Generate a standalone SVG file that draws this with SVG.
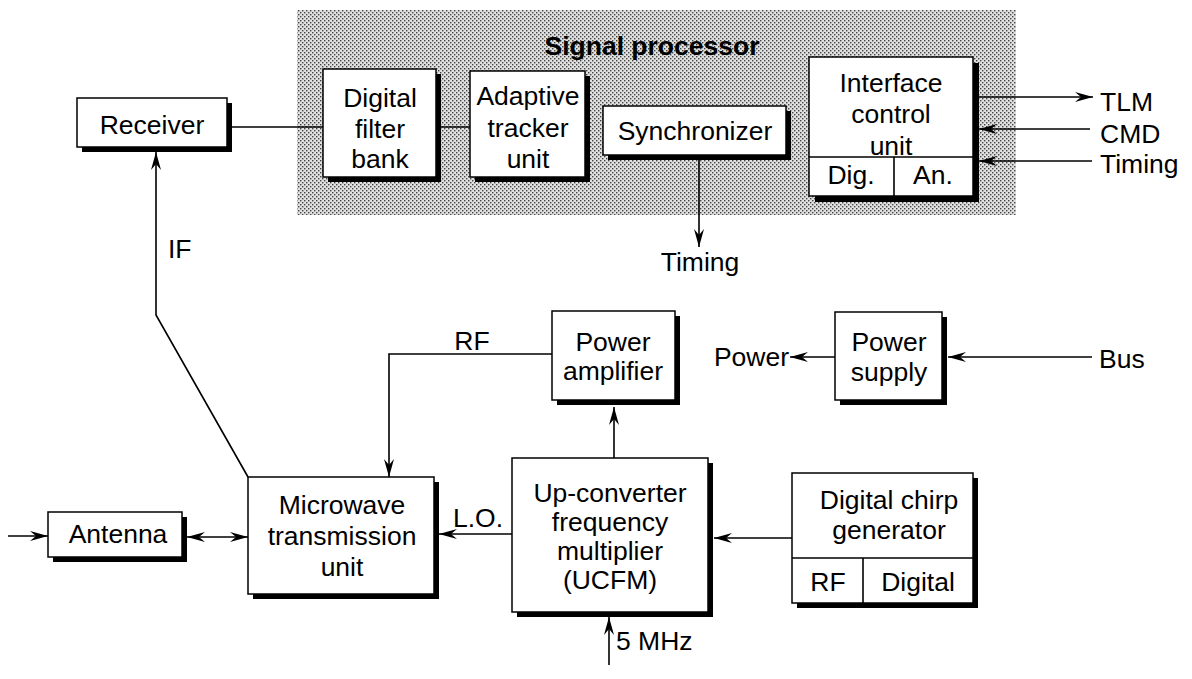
<svg xmlns="http://www.w3.org/2000/svg" width="1192" height="679" viewBox="0 0 1192 679">
<style>
text{font-family:"Liberation Sans",Arial,Helvetica,sans-serif;font-size:26.5px;fill:#000}
.c{text-anchor:middle}
.e{text-anchor:end}
.b{font-weight:bold}
.box{fill:#fff;stroke:#000;stroke-width:1.5}
.sh{fill:#000}
.w{fill:none;stroke:#000;stroke-width:1.6}
</style>
<defs>
<pattern id="dots" width="4" height="4" patternUnits="userSpaceOnUse">
<rect width="4" height="4" fill="#e0e0e0"/>
<rect x="0" y="0" width="1.4" height="1.4" fill="#444"/>
<rect x="2" y="2" width="1.4" height="1.4" fill="#444"/>
</pattern>
<marker id="ar" viewBox="0 0 18 10" refX="18" refY="5" markerWidth="18" markerHeight="10" markerUnits="userSpaceOnUse" orient="auto-start-reverse">
<path d="M0,0 L18,5 L0,10 L6,5 z" fill="#000"/>
</marker>
</defs>
<rect width="1192" height="679" fill="#fff"/>

<g id="signal-processor">
<rect x="297" y="10" width="719" height="205" fill="url(#dots)"/>
<text class="c b" x="652" y="55">Signal processor</text>
</g>

<g id="connectors">
<line class="w" x1="227" y1="127" x2="323" y2="127"/>
<line class="w" x1="436" y1="127" x2="470" y2="127"/>
<line class="w" x1="699" y1="155" x2="699" y2="247" marker-end="url(#ar)"/>
<line class="w" x1="973" y1="97" x2="1093" y2="97" marker-end="url(#ar)"/>
<line class="w" x1="1090" y1="129" x2="979" y2="129" marker-end="url(#ar)"/>
<line class="w" x1="1092" y1="161" x2="979" y2="161" marker-end="url(#ar)"/>
<polyline class="w" points="248,477 156,315 156,152" marker-end="url(#ar)"/>
<polyline class="w" points="552,354 389,354 389,477" marker-end="url(#ar)"/>
<line class="w" x1="614" y1="458" x2="614" y2="407" marker-end="url(#ar)"/>
<line class="w" x1="835" y1="357" x2="790" y2="357" marker-end="url(#ar)"/>
<line class="w" x1="1092" y1="357" x2="948" y2="357" marker-end="url(#ar)"/>
<line class="w" x1="8" y1="536" x2="48" y2="536" marker-end="url(#ar)"/>
<line class="w" x1="187" y1="537" x2="248" y2="537" marker-start="url(#ar)" marker-end="url(#ar)"/>
<line class="w" x1="512" y1="534" x2="439" y2="534" marker-end="url(#ar)"/>
<line class="w" x1="792" y1="538" x2="714" y2="538" marker-end="url(#ar)"/>
<line class="w" x1="609" y1="665" x2="609" y2="617" marker-end="url(#ar)"/>
</g>

<g id="receiver">
<rect class="sh" x="82" y="103" width="150" height="49"/>
<rect class="box" x="77" y="98" width="150" height="49"/>
<text class="c" x="152" y="134">Receiver</text>
</g>

<g id="digital-filter-bank">
<rect class="sh" x="328" y="74" width="113" height="108"/>
<rect class="box" x="323" y="69" width="113" height="108"/>
<text class="c" x="380" y="107">Digital</text>
<text class="c" x="380" y="138">filter</text>
<text class="c" x="380" y="168">bank</text>
</g>

<g id="adaptive-tracker-unit">
<rect class="sh" x="475" y="76" width="115" height="106"/>
<rect class="box" x="470" y="71" width="115" height="106"/>
<text class="c" x="528" y="105">Adaptive</text>
<text class="c" x="528" y="137">tracker</text>
<text class="c" x="528" y="168">unit</text>
</g>

<g id="synchronizer">
<rect class="sh" x="608" y="111" width="183" height="49"/>
<rect class="box" x="603" y="106" width="183" height="49"/>
<text class="c" x="695" y="140">Synchronizer</text>
</g>

<g id="interface-control-unit">
<rect class="sh" x="815" y="63" width="164" height="139"/>
<rect class="box" x="809" y="57" width="164" height="139"/>
<line class="w" x1="809" y1="157" x2="973" y2="157"/>
<line class="w" x1="894" y1="157" x2="894" y2="196"/>
<text class="c" x="891" y="92">Interface</text>
<text class="c" x="891" y="123">control</text>
<text class="c" x="891" y="155">unit</text>
<text class="c" x="851" y="184">Dig.</text>
<text class="c" x="933" y="184">An.</text>
</g>

<g id="labels">
<text x="1100" y="111">TLM</text>
<text x="1100" y="143">CMD</text>
<text x="1100" y="173">Timing</text>
<text class="c" x="700" y="271">Timing</text>
<text x="168" y="258">IF</text>
<text class="c" x="472" y="350">RF</text>
<text class="e" x="789" y="366">Power</text>
<text x="1099" y="368">Bus</text>
<text x="453" y="527">L.O.</text>
<text x="616" y="650">5 MHz</text>
</g>

<g id="power-amplifier">
<rect class="sh" x="557" y="316" width="123" height="89"/>
<rect class="box" x="552" y="311" width="123" height="89"/>
<text class="c" x="613" y="351">Power</text>
<text class="c" x="613" y="380">amplifier</text>
</g>

<g id="power-supply">
<rect class="sh" x="840" y="317" width="107" height="88"/>
<rect class="box" x="835" y="312" width="107" height="88"/>
<text class="c" x="889" y="351">Power</text>
<text class="c" x="889" y="381">supply</text>
</g>

<g id="antenna">
<rect class="sh" x="53" y="517" width="134" height="45"/>
<rect class="box" x="48" y="512" width="134" height="45"/>
<text class="c" x="118" y="543">Antenna</text>
</g>

<g id="microwave-transmission-unit">
<rect class="sh" x="253" y="482" width="186" height="117"/>
<rect class="box" x="248" y="477" width="186" height="117"/>
<text class="c" x="342" y="514">Microwave</text>
<text class="c" x="342" y="545">transmission</text>
<text class="c" x="342" y="576">unit</text>
</g>

<g id="ucfm">
<rect class="sh" x="517" y="463" width="196" height="154"/>
<rect class="box" x="512" y="458" width="196" height="154"/>
<text class="c" x="610" y="502">Up-converter</text>
<text class="c" x="610" y="531">frequency</text>
<text class="c" x="610" y="560">multiplier</text>
<text class="c" x="610" y="589">(UCFM)</text>
</g>

<g id="digital-chirp-generator">
<rect class="sh" x="797" y="478" width="181" height="130"/>
<rect class="box" x="792" y="473" width="181" height="130"/>
<line class="w" x1="792" y1="558" x2="973" y2="558"/>
<line class="w" x1="863" y1="558" x2="863" y2="603"/>
<text class="c" x="889" y="509">Digital chirp</text>
<text class="c" x="889" y="539">generator</text>
<text class="c" x="828" y="591">RF</text>
<text class="c" x="918" y="591">Digital</text>
</g>
</svg>
